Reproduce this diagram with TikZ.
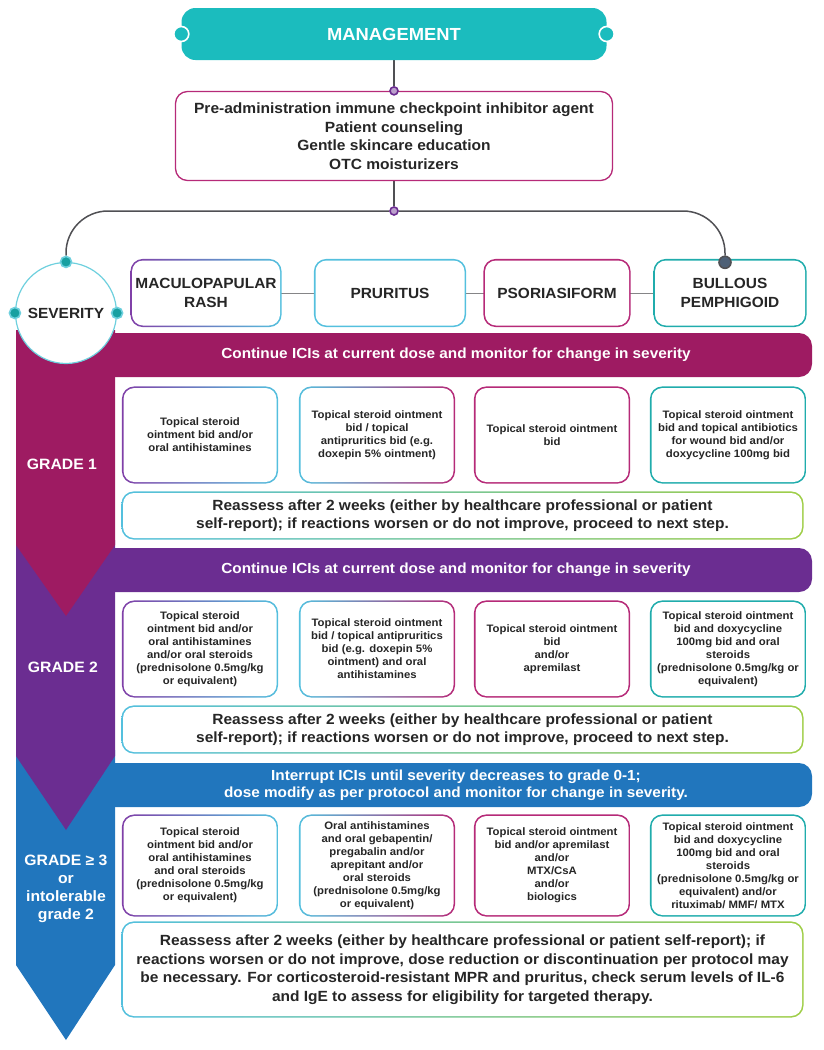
\documentclass[tikz,border=0pt]{standalone}
\usepackage{fontspec}
\setmainfont[FakeStretch=1.05]{Liberation Sans}
\usetikzlibrary{positioning}
\pgfdeclarelayer{bg}
\pgfsetlayers{bg,main}

\definecolor{ink}{RGB}{38,38,38}
\definecolor{wire}{RGB}{80,80,84}
\definecolor{mteal}{RGB}{27,188,190}
\definecolor{lteal}{RGB}{110,208,222}
\definecolor{gmag}{RGB}{158,27,98}
\definecolor{gpur}{RGB}{107,45,145}
\definecolor{gblue}{RGB}{33,118,189}
\definecolor{bpur}{RGB}{128,64,168}
\definecolor{bblue}{RGB}{84,192,222}
\definecolor{bmag}{RGB}{182,42,120}
\definecolor{bteal}{RGB}{32,172,172}
\definecolor{bgreen}{RGB}{160,206,72}
\definecolor{slate}{RGB}{78,96,118}

\begin{document}
\begin{tikzpicture}[x=1pt,y=-1pt,
    every node/.style={text=ink,font=\bfseries,align=center,inner sep=2pt},
    knob/.style={shape=circle,inner sep=0pt,minimum size=#1,line width=1.6pt},
    hbar/.style={rounded corners=13pt,minimum width=712pt,minimum height=44pt,text=white,
      font=\bfseries\fontsize{14.6}{17}\selectfont},
    hdbox/.style={fill=white,rounded corners=11pt,minimum height=65pt,
      font=\bfseries\fontsize{14.7}{19}\selectfont},
    optbox/.style={fill=white,rounded corners=11pt,minimum width=153pt,
      font=\bfseries\fontsize{10.8}{13}\selectfont},
    rebox/.style={fill=white,rounded corners=11pt,minimum width=679pt,
      font=\bfseries\fontsize{14.75}{18.5}\selectfont},
    grade/.style={text=white,font=\bfseries\fontsize{15}{18}\selectfont}]

  \useasboundingbox (0,0) rectangle (823,1050);

  % draw top of the tree
  \node[fill=mteal,rounded corners=14pt,minimum width=425pt,minimum height=52pt,
    text=white,font=\bfseries\fontsize{17.5}{22}\selectfont] (mgmt) at (394,34) {MANAGEMENT};
  \node[knob=15pt,fill=mteal,draw=white] at (mgmt.west) {};
  \node[knob=15pt,fill=mteal,draw=white] at (mgmt.east) {};

  \node[draw=bmag,line width=1.3pt,fill=white,rounded corners=12pt,minimum width=437pt,
    minimum height=89pt,font=\bfseries\fontsize{14.8}{18.5}\selectfont] (pre) at (394,136)
    {Pre-administration immune checkpoint inhibitor agent\\Patient counseling\\
     Gentle skincare education\\OTC moisturizers};

  \node[knob=8pt,fill=gpur!45,draw=gpur] (pdot) at (pre.north) {};
  \node[knob=8pt,fill=gpur!45,draw=gpur] (tdot) at (394,211) {};

  % draw header boxes
  \foreach [count=\n] \x/\w/\y in {206/148/{MACULOPAPULAR\\RASH},390/149/PRURITUS,
      557/144/PSORIASIFORM,730/150/{BULLOUS\\PEMPHIGOID}} {
    \node[hdbox,minimum width=\w pt] (h\n) at (\x,293) {\y};
  };
  \node[knob=12pt,fill=slate,draw=wire] (bpdot) at ([xshift=-5pt,yshift=-2pt]h4.north) {};

  % draw action bars
  \node[hbar,fill=gmag] (bar1) at (456,355)
    {Continue ICIs at current dose and monitor for change in severity};
  \node[hbar,fill=gpur] (bar2) at (456,570)
    {Continue ICIs at current dose and monitor for change in severity};
  \node[hbar,fill=gblue] (bar3) at (456,785)
    {Interrupt ICIs until severity decreases to grade 0-1;\\
     dose modify as per protocol and monitor for change in severity.};

  % draw grade arrows
  \fill[gblue] (16,750) -- (115,750) -- (115,965) -- (66,1040) -- (16,965) -- cycle;
  \fill[gpur] (16,540) -- (115,540) -- (115,756) -- (66,830) -- (16,756) -- cycle;
  \fill[gmag] (16,330) -- (115,330) -- (115,545) -- (66,616) -- (16,545) -- cycle;

  \node[shape=circle,draw=lteal,line width=1.2pt,fill=white,minimum size=101pt,
    font=\bfseries\fontsize{14.7}{18}\selectfont] (sev) at (66,313) {SEVERITY};
  \foreach \a in {north,west,east} {
    \node[knob=11pt,fill=mteal!85!black,draw=lteal] (sev\a) at (sev.\a) {};
  };

  \node[grade] (lab1) at (62,464) {GRADE 1};
  \node[grade] (lab2) at (63,667) {GRADE 2};
  \node[grade] (lab3) at (66,889) {GRADE ≥ 3\\or\\intolerable\\grade 2};

  % draw grade 1 options
  \foreach [count=\n] \x/\t in {200/{Topical steroid\\ointment bid and/or\\oral antihistamines},
      377/{Topical steroid ointment\\bid / topical\\antipruritics bid (e.g.\\doxepin 5\% ointment)},
      552/{Topical steroid ointment\\bid},
      728/{Topical steroid ointment\\bid and topical antibiotics\\for wound bid and/or\\doxycycline 100mg bid}} {
    \node[optbox,minimum height=94pt] (ga\n) at (\x,435) {\t};
  };

  % draw grade 2 options
  \foreach [count=\n] \x/\t in {200/{Topical steroid\\ointment bid and/or\\oral antihistamines\\and/or oral steroids\\(prednisolone 0.5mg/kg\\or equivalent)},
      377/{Topical steroid ointment\\bid / topical antipruritics\\bid (e.g. doxepin 5\%\\ointment) and oral\\antihistamines},
      552/{Topical steroid ointment\\bid\\and/or\\apremilast},
      728/{Topical steroid ointment\\bid and doxycycline\\100mg bid and oral\\steroids\\(prednisolone 0.5mg/kg or\\equivalent)}} {
    \node[optbox,minimum height=94pt] (gb\n) at (\x,649) {\t};
  };

  % draw grade 3 options
  \foreach [count=\n] \x/\t in {200/{Topical steroid\\ointment bid and/or\\oral antihistamines\\and oral steroids\\(prednisolone 0.5mg/kg\\or equivalent)},
      377/{Oral antihistamines\\and oral gebapentin/\\pregabalin and/or\\aprepitant and/or\\oral steroids\\(prednisolone 0.5mg/kg\\or equivalent)},
      552/{Topical steroid ointment\\bid and/or apremilast\\and/or\\MTX/CsA\\and/or\\biologics},
      728/{Topical steroid ointment\\bid and doxycycline\\100mg bid and oral\\steroids\\(prednisolone 0.5mg/kg or\\equivalent) and/or\\rituximab/ MMF/ MTX}} {
    \node[optbox,minimum height=99pt] (gc\n) at (\x,865.5) {\t};
  };

  % draw reassess boxes
  \node[rebox,minimum height=45pt] (re1) at (462.5,515.5)
    {Reassess after 2 weeks (either by healthcare professional or patient\\
     self-report); if reactions worsen or do not improve, proceed to next step.};
  \node[rebox,minimum height=45pt] (re2) at (462.5,729.5)
    {Reassess after 2 weeks (either by healthcare professional or patient\\
     self-report); if reactions worsen or do not improve, proceed to next step.};
  \node[rebox,minimum height=93pt] (re3) at (462.5,969.5)
    {Reassess after 2 weeks (either by healthcare professional or patient self-report); if\\
     reactions worsen or do not improve, dose reduction or discontinuation per protocol may\\
     be necessary. For corticosteroid-resistant MPR and pruritus, check serum levels of IL-6\\
     and IgE to assess for eligibility for targeted therapy.};

  \begin{pgfonlayer}{bg}
  % draw connectors
  \draw[wire,line width=1.4pt] (mgmt) -- (pdot);
  \draw[wire,line width=1.4pt] (pre) -- (tdot);
  \draw[wire,line width=1.5pt,rounded corners=42pt] (sevnorth) |- (tdot) -| (bpdot);
  \draw[wire!70,line width=1pt] (h1) -- (h2) -- (h3) -- (h4);

  % draw coloured rims
  \foreach \b/\l/\r in {h1/bpur/bblue,h2/bblue/bblue,h3/bmag/bmag,h4/bteal/bteal,
      ga1/bpur/bblue,ga2/bblue/bmag,ga3/bmag/bmag,ga4/bteal/bteal,
      gb1/bpur/bblue,gb2/bblue/bmag,gb3/bmag/bmag,gb4/bteal/bteal,
      gc1/bpur/bblue,gc2/bblue/bmag,gc3/bmag/bmag,gc4/bteal/bteal,
      re1/bblue/bgreen,re2/bblue/bgreen,re3/bblue/bgreen} {
    \shade[rounded corners=12.4pt,left color=\l,right color=\r]
      ([shift={(-1.4,-1.4)}]\b.north west) rectangle ([shift={(1.4,1.4)}]\b.south east);
  };
  \end{pgfonlayer}

\end{tikzpicture}
\end{document}
